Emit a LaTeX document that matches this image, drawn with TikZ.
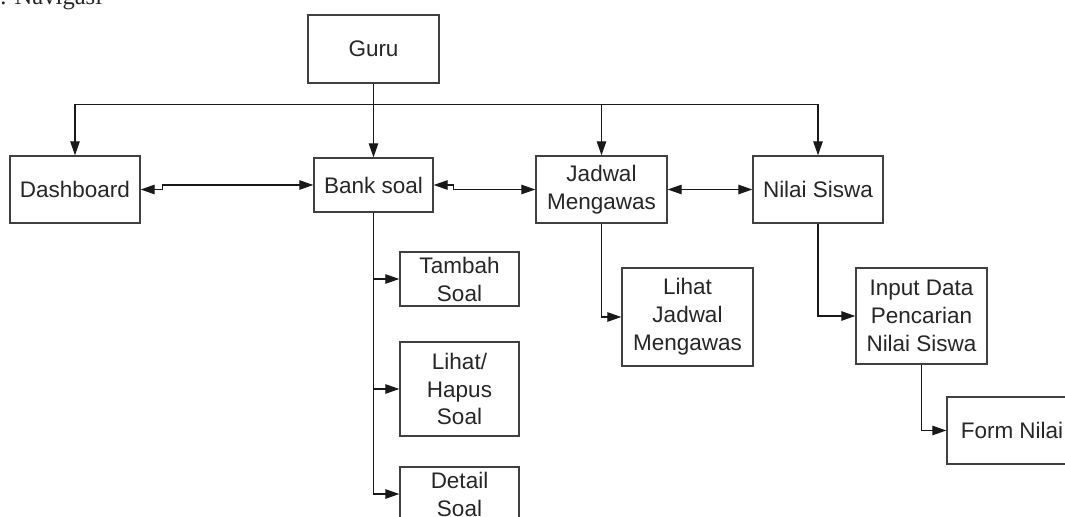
\documentclass[tikz,border=0pt]{standalone}
\usepackage{fontspec}
\setmainfont{Liberation Sans}
\newfontfamily\judulfont{Liberation Serif}
\usetikzlibrary{arrows.meta}

\begin{document}
\begin{tikzpicture}[scale=1,
    kotak/.style={draw=black!75, line width=0.8pt, text=black!85, align=center,
        inner sep=0pt, font=\fontsize{12.8}{15.9}\selectfont},
    garis/.style={line width=0.7pt, black!90},
    >={Triangle[length=2.8mm,width=1.9mm]}]
    \useasboundingbox (0,0) rectangle (21.3,-10.34);

    % judul (terpotong di tepi atas)
    \node[anchor=base west, inner sep=0pt, text=black!85, font=\judulfont\fontsize{14}{16}\selectfont] (judul) at (0,-0.10) {. Navigasi};

    % menu utama
    \node[kotak, minimum width=2.62cm, minimum height=1.36cm] (guru) at (7.47,-0.98) {Guru};
    \node[kotak, minimum width=2.60cm, minimum height=1.34cm] (dash) at (1.50,-3.79) {Dashboard};
    \node[kotak, minimum width=2.38cm, minimum height=1.08cm] (bank) at (7.47,-3.70) {Bank soal};
    \node[kotak, minimum width=2.62cm, minimum height=1.34cm] (jadwal) at (12.03,-3.79) {Jadwal\\Mengawas};
    \node[kotak, minimum width=2.60cm, minimum height=1.34cm] (nilai) at (16.36,-3.79) {Nilai Siswa};

    % sub menu
    \node[kotak, minimum width=2.38cm, minimum height=1.08cm] (tambah) at (9.19,-5.58) {Tambah\\Soal};
    \node[kotak, minimum width=2.38cm, minimum height=1.88cm] (hapus) at (9.19,-7.78) {Lihat/\\Hapus\\Soal};
    \node[kotak, minimum width=2.38cm, minimum height=1.08cm] (detail) at (9.19,-9.88) {Detail\\Soal};
    \node[kotak, minimum width=2.62cm, minimum height=1.96cm] (lihatjadwal) at (13.75,-6.34) {Lihat\\Jadwal\\Mengawas};
    \node[kotak, minimum width=2.62cm, minimum height=1.92cm] (input) at (18.43,-6.32) {Input Data\\Pencarian\\Nilai Siswa};
    \node[kotak, minimum width=2.60cm, minimum height=1.34cm] (form) at (20.24,-8.61) {Form Nilai};

    % garis dari guru
    \draw[garis] (guru.south) -- ++(0,-0.42) coordinate (bus);
    \draw[garis, ->] (bus) -| (dash.north);
    \draw[garis, ->] (bus) -- (bank.north);
    \draw[garis, ->] (bus) -| (jadwal.north);
    \draw[garis, ->] (bus) -| (nilai.north);

    % antar menu
    \draw[garis, <->] (dash.east) -- ++(0.44,0) |- (bank.west);
    \draw[garis, <->] (bank.east) -- ++(0.40,0) |- (jadwal.west);
    \draw[garis, <->] (jadwal.east) -- (nilai.west);

    % ke sub menu
    \draw[garis, ->] (bank.south) |- (tambah.west);
    \draw[garis, ->] (bank.south) |- (hapus.west);
    \draw[garis, ->] (bank.south) |- (detail.west);
    \draw[garis, ->] (jadwal.south) |- (lihatjadwal.west);
    \draw[garis, ->] (nilai.south) |- (input.west);
    \draw[garis, ->] (input.south) |- (form.west);
\end{tikzpicture}
\end{document}
